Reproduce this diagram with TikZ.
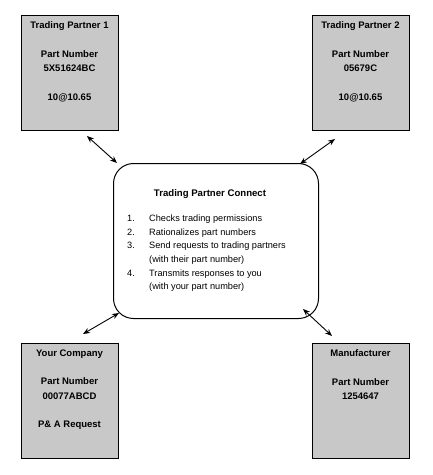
\documentclass[tikz,border=0pt]{standalone}
\usepackage{fontspec}
\setmainfont{Liberation Sans}
\usetikzlibrary{arrows.meta}
\definecolor{boxgray}{RGB}{200,200,200}
\tikzset{
  partbox/.style={draw=black, line width=1pt, fill=boxgray, minimum width=97pt, minimum height=115pt, inner sep=0pt, anchor=north west},
  boxtext/.style={anchor=north, align=center, inner sep=0pt, font=\fontsize{9.5}{14.5}\selectfont\bfseries},
  hub/.style={draw=black, line width=1pt, fill=white, rounded corners=20pt, minimum width=205pt, minimum height=155pt, inner sep=0pt, anchor=north west},
  link/.style={line width=0.9pt, {Stealth[length=7pt,width=5.5pt]}-{Stealth[length=7pt,width=5.5pt]}}
}
\begin{document}
\begin{tikzpicture}[x=1pt,y=-1pt]
\useasboundingbox (0,0) rectangle (433,475);
% boxes
\node[partbox] (tp1) at (21,15) {};
\node[partbox] (tp2) at (312,15) {};
\node[partbox] (you) at (21,343) {};
\node[partbox] (mfr) at (312,343) {};
\node[hub] (hub) at (113,163) {};
% box texts
\node[boxtext] (tp1t) at (69.5,21.5) {Trading Partner 1\\[14pt]Part Number\\5X51624BC\\[14pt]10@10.65};
\node[boxtext] (tp2t) at (360.5,21.5) {Trading Partner 2\\[14pt]Part Number\\05679C\\[14pt]10@10.65};
\node[boxtext] (yout) at (69.5,349.5) {Your Company\\[14pt]Part Number\\00077ABCD\\[14pt]P\& A Request};
\node[boxtext] (mfrt) at (360.5,349.5) {Manufacturer\\[14pt]Part Number\\1254647};
% hub text
\node[anchor=base, inner sep=0pt, font=\fontsize{9.6}{12}\selectfont\bfseries] (hubt) at (210,196) {Trading Partner Connect};
\node[anchor=north west, align=left, inner sep=0pt, font=\fontsize{9.2}{13.6}\selectfont] (list) at (127,214.8) {%
\makebox[22pt][l]{1.}Checks trading permissions\\
\makebox[22pt][l]{2.}Rationalizes part numbers\\
\makebox[22pt][l]{3.}Send requests to trading partners\\
\hspace*{22pt}(with their part number)\\
\makebox[22pt][l]{4.}Transmits responses to you\\
\hspace*{22pt}(with your part number)};
% connector ends
\coordinate (a1) at (87,136);
\coordinate (b1) at (117,163);
\coordinate (a2) at (335,139);
\coordinate (b2) at (300,164);
\coordinate (a3) at (83,334);
\coordinate (b3) at (119,313);
\coordinate (a4) at (303,309);
\coordinate (b4) at (332,336);
\draw[link] (a1) -- (b1);
\draw[link] (a2) -- (b2);
\draw[link] (a3) -- (b3);
\draw[link] (a4) -- (b4);
\end{tikzpicture}
\end{document}
